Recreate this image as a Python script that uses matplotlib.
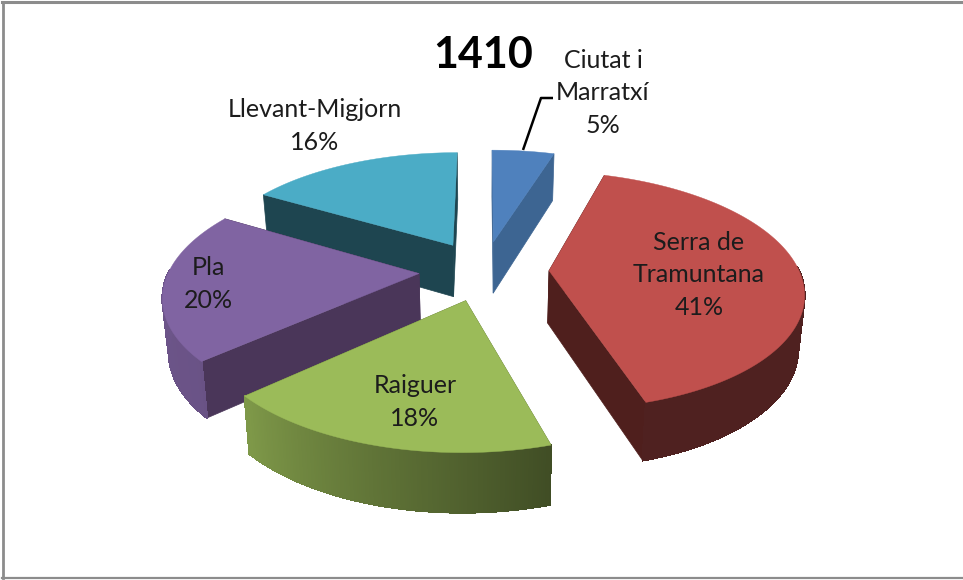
import numpy as np
import matplotlib
matplotlib.use("Agg")
import matplotlib.pyplot as plt
from matplotlib.collections import PolyCollection, LineCollection
from matplotlib.colors import to_rgb

title = "1410"
names = ["Ciutat i\nMarratxí", "Serra de\nTramuntana", "Raiguer", "Pla", "Llevant-Migjorn"]
shares = [4.8, 40.6, 17.9, 20.2, 16.5]
percent_labels = [5, 41, 18, 20, 16]
top_colors = ["#4f81bd", "#c0504d", "#9bbb59", "#8064a2", "#4bacc6"]
cut_colors = ["#3d6592", "#4f1f1d", "#5f7436", "#4a3659", "#1e4550"]
label_pos = [(603, 93), (699, 275), (415, 402), (208, 284), (315, 126)]

# projection parameters (pixel space)
CX, CY, F, G, P, EXPL = 484, 270.5, 250, 115.6, 0.165, 0.26
D, Q, SX = 52.5, 0.10, 0.98

plt.rcParams["font.family"] = ["Lato", "DejaVu Sans"]
fig = plt.figure(figsize=(9.63, 5.80), dpi=100, facecolor="white")
ax = fig.add_axes([0, 0, 1, 1])
ax.set_xlim(0, 963)
ax.set_ylim(580, 0)
ax.axis("off")


def project(X, Y, low=False):
    X, Y = np.asarray(X, float), np.asarray(Y, float)
    den = 1 + P * Y
    x = F * X / den
    y = G * Y / den
    if low:
        x = x * SX
        y = y - D / (1 + Q * Y)
    return np.column_stack([CX + x, CY - y])


def wall_shade(t):
    return np.interp(t, [163, 230, 300], [0.41, 0.83, 0.86])


fracs = np.array(shares, float) / sum(shares)
edges = np.concatenate([[0], np.cumsum(fracs)]) * 360
slices = []
for i in range(len(shares)):
    a0, a1 = edges[i], edges[i + 1]
    mid = np.radians((a0 + a1) / 2)
    ox, oy = EXPL * np.sin(mid), EXPL * np.cos(mid)
    t = np.linspace(a0, a1, 160)
    X = ox + np.sin(np.radians(t))
    Y = oy + np.cos(np.radians(t))
    slices.append(dict(i=i, t=t, X=X, Y=Y, ox=ox, oy=oy))

for rank, s in enumerate(sorted(slices, key=lambda d: -d["oy"])):
    i, t, X, Y, ox, oy = s["i"], s["t"], s["X"], s["Y"], s["ox"], s["oy"]
    col = np.array(to_rgb(top_colors[i]))
    z = 3 + rank
    # radial cut faces
    for X1, Y1 in ((X[0], Y[0]), (X[-1], Y[-1])):
        xs, ys = np.array([ox, X1]), np.array([oy, Y1])
        up, lo = project(xs, ys), project(xs, ys, low=True)
        ax.fill(*np.vstack([up, lo[::-1]]).T, color=cut_colors[i], lw=0.5, zorder=z)
    # outer wall as shaded strips: only the part that faces the viewer
    up, lo = project(X, Y), project(X, Y, low=True)
    tm = (t[:-1] + t[1:]) / 2
    front = np.where(np.cos(np.radians(tm)) < 0.03)[0]
    if len(front):
        polys = [np.vstack([up[j:j + 2], lo[j:j + 2][::-1]]) for j in front]
        cols = [np.clip(col * wall_shade(tm[j]), 0, 1) for j in front]
        ax.add_collection(PolyCollection(polys, facecolors=cols, edgecolors=cols, linewidths=0.8,
                                         antialiaseds=False, zorder=z + 0.1))
        ax.add_collection(LineCollection([lo[j:j + 2] for j in front], colors=cols, linewidths=1.0,
                                         zorder=z + 0.2))
    # top face
    top = np.vstack([project([ox], [oy]), up])
    ax.fill(*top.T, color=top_colors[i], lw=0.3, zorder=z + 0.5)

# leader line
ax.plot([523, 541, 553], [150, 98, 98], color="black", lw=1.8, solid_capstyle="butt", zorder=20)

# labels
for name, v, (lx, ly) in zip(names, percent_labels, label_pos):
    ax.text(lx, ly, f"{name}\n{v}%", ha="center", va="center", fontsize=18,
            color="#1c1c1c", linespacing=1.5, zorder=21)
ax.text(483, 55, title, ha="center", va="center", fontsize=31, fontweight="bold", color="black", zorder=21)

# chart frame: left, top and bottom edges
ax.plot([3, 3], [2, 578], color="#8c8c8c", lw=2, zorder=1)
ax.plot([2, 963], [2, 2], color="#8c8c8c", lw=2.2, zorder=1)
ax.plot([2, 963], [578, 578], color="#8c8c8c", lw=1.6, zorder=1)

fig.savefig("out.png", dpi=100, facecolor="white")
